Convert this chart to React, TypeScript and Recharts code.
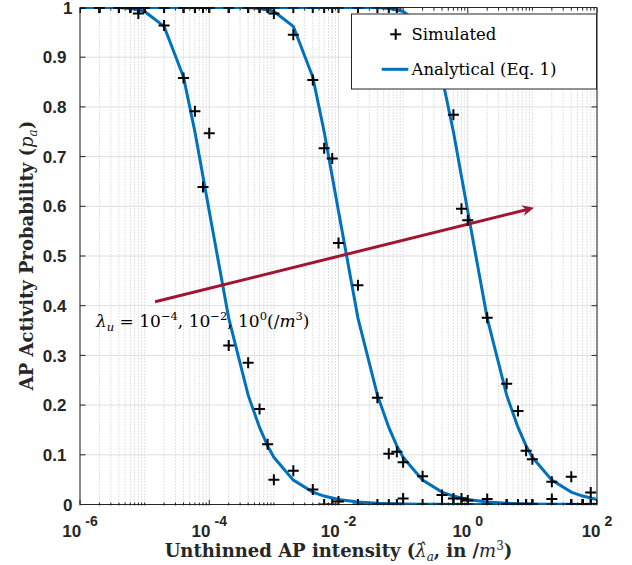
import React from 'react';
import { ComposedChart, Line, XAxis, YAxis, CartesianGrid, ReferenceLine, ReferenceArea } from 'recharts';

// ---------- data ----------
const intensities = [1e-6, 2e-6, 4e-6, 6e-6, 8e-6, 1e-5, 2e-5, 4e-5, 6e-5, 8e-5, 1e-4, 2e-4, 4e-4, 6e-4, 8e-4, 1e-3, 2e-3, 4e-3, 6e-3, 8e-3, 1e-2, 2e-2, 4e-2, 6e-2, 8e-2, 1e-1, 0.2, 0.4, 0.6, 0.8, 1, 2, 4, 6, 8, 10, 20, 40, 60, 80, 100];

const analyticLu4 = [1, 1, 1, 0.998, 0.995, 0.992, 0.962, 0.86, 0.75, 0.66, 0.59, 0.375, 0.22, 0.155, 0.118, 0.095, 0.049, 0.025, 0.017, 0.013, 0.01, 0.005, 0.0025, 0.0017, 0.0013, 0.001, 0.0005, 0.0003, 0.0002, 0.0001, 0.0001, 0, 0, 0, 0, 0, 0, 0, 0, 0, 0];
const analyticLu2 = [1, 1, 1, 1, 1, 1, 1, 1, 1, 1, 1, 1, 1, 0.998, 0.995, 0.992, 0.962, 0.86, 0.75, 0.66, 0.59, 0.375, 0.22, 0.155, 0.118, 0.095, 0.049, 0.025, 0.017, 0.013, 0.01, 0.005, 0.0025, 0.0017, 0.0013, 0.001, 0.0005, 0.0003, 0.0002, 0.0001, 0.0001];
const analyticLu0 = [1, 1, 1, 1, 1, 1, 1, 1, 1, 1, 1, 1, 1, 1, 1, 1, 1, 1, 1, 1, 1, 1, 1, 0.998, 0.995, 0.992, 0.962, 0.86, 0.75, 0.66, 0.59, 0.375, 0.22, 0.155, 0.118, 0.095, 0.049, 0.025, 0.017, 0.013, 0.01];

const simLu4 = [1, 1, 1, 1, 0.988, 1, 0.964, 0.858, 0.791, 0.639, 0.747, 0.32, 0.285, 0.192, 0.121, 0.05, 0.068, 0.03, 0, 0, 0.006, 0, 0, 0, 0, 0.012, 0, 0, 0, 0, 0, 0, 0, 0, 0, 0, 0, 0, 0, 0, 0];
const simLu2 = [1, 1, 1, 1, 1, 1, 1, 1, 1, 1, 1, 1, 1, 1, 1, 0.988, 0.945, 0.854, 0.717, 0.696, 0.526, 0.441, 0.215, 0.102, 0.106, 0.085, 0.057, 0.019, 0.012, 0.012, 0.008, 0.011, 0, 0, 0, 0, 0.011, 0, 0, 0, 0];
const simLu0 = [1, 1, 1, 1, 1, 1, 1, 1, 1, 1, 1, 1, 1, 1, 1, 1, 1, 1, 1, 1, 1, 1, 1, 1, 1, 0.975, 0.96, 0.86, 0.784, 0.595, 0.572, 0.376, 0.243, 0.188, 0.108, 0.091, 0.046, 0.056, 0, 0.024, 0];

const xTickValues = [1e-6, 1e-4, 1e-2, 1, 100];
const xTickExponents = ['-6', '-4', '-2', '0', '2'];
const yTickValues = [0, 0.1, 0.2, 0.3, 0.4, 0.5, 0.6, 0.7, 0.8, 0.9, 1];
const yTickLabels = ['0', '0.1', '0.2', '0.3', '0.4', '0.5', '0.6', '0.7', '0.8', '0.9', '1'];

const arrowSegment = [{ x: 1.45e-5, y: 0.408 }, { x: 10.6, y: 0.597 }];

const rows = intensities.map((x, i) => ({
  x,
  a1: analyticLu4[i],
  a2: analyticLu2[i],
  a3: analyticLu0[i],
  s1: simLu4[i],
  s2: simLu2[i],
  s3: simLu0[i],
}));

const minorTicks: number[] = [];
for (let k = -6; k <= 1; k++) {
  for (let m = 1; m <= 9; m++) {
    if (m === 1 && k % 2 === 0) continue;
    minorTicks.push(m * Math.pow(10, k));
  }
}

// ---------- layout / style ----------
const W = 632;
const H = 565;
const PL = 80;
const PR = 597;
const PT = 7.5;
const PB = 505.5;
const AXIS = '#262626';
const BLUE = '#0072BD';
const RED = '#A2142F';
const SANS = '"Liberation Sans", Arial, Helvetica, sans-serif';
const SERIF = '"DejaVu Serif", serif';

const XMajorTick = (props: any) => {
  const { x, payload } = props;
  const i = xTickValues.indexOf(payload.value);
  return (
    <g>
      <line x1={x} y1={PB} x2={x} y2={PB - 5.5} stroke={AXIS} strokeWidth={1} />
      <line x1={x} y1={PT} x2={x} y2={PT + 5.5} stroke={AXIS} strokeWidth={1} />
      <text x={x} y={PB + 31.5} textAnchor="middle" fontFamily={SANS} fontWeight="bold" fill={AXIS}>
        <tspan fontSize={17}>10</tspan>
        <tspan fontSize={14} dx={4} dy={-11}>{xTickExponents[i]}</tspan>
      </text>
    </g>
  );
};

const XMinorTick = (props: any) => {
  const { x } = props;
  return (
    <g>
      <line x1={x} y1={PB} x2={x} y2={PB - 3} stroke={AXIS} strokeWidth={1} />
      <line x1={x} y1={PT} x2={x} y2={PT + 3} stroke={AXIS} strokeWidth={1} />
    </g>
  );
};

const YTick = (props: any) => {
  const { y, payload } = props;
  const i = yTickValues.indexOf(payload.value);
  const label = yTickLabels[i];
  const endX = label.length === 1 ? 72.5 : 66.5;
  return (
    <g>
      <line x1={PL} y1={y} x2={PL + 5.5} y2={y} stroke={AXIS} strokeWidth={1} />
      <line x1={PR} y1={y} x2={PR - 5.5} y2={y} stroke={AXIS} strokeWidth={1} />
      <text x={endX} y={y} dy="0.36em" textAnchor="end" fontFamily={SANS} fontWeight="bold" fontSize={17} fill={AXIS}>
        {label}
      </text>
    </g>
  );
};

const PlusMark = (props: any) => {
  const { cx, cy } = props;
  if (cx == null || cy == null || isNaN(cx) || isNaN(cy)) return <g />;
  return (
    <g>
      <line x1={cx - 5.5} y1={cy} x2={cx + 5.5} y2={cy} stroke="#000" strokeWidth={2} />
      <line x1={cx} y1={cy - 5.5} x2={cx} y2={cy + 5.5} stroke="#000" strokeWidth={2} />
    </g>
  );
};

const ArrowShape = (props: any) => {
  const { x1, y1, x2, y2 } = props;
  if ([x1, y1, x2, y2].some((v) => v == null || isNaN(v))) return <g />;
  const ang = Math.atan2(y2 - y1, x2 - x1);
  const ux = Math.cos(ang);
  const uy = Math.sin(ang);
  const px = -uy;
  const py = ux;
  const L = 12;
  const hw = 5.5;
  const notch = 8;
  const bx = x2 - ux * L;
  const by = y2 - uy * L;
  const nx = x2 - ux * notch;
  const ny = y2 - uy * notch;
  const pts = `${x2},${y2} ${bx + px * hw},${by + py * hw} ${nx},${ny} ${bx - px * hw},${by - py * hw}`;
  return (
    <g>
      <line x1={x1} y1={y1} x2={nx} y2={ny} stroke={RED} strokeWidth={3} />
      <polygon points={pts} fill={RED} />
    </g>
  );
};

const simDot = (name: string) => (p: any) => <PlusMark key={`${name}-${p.index}`} cx={p.cx} cy={p.cy} />;

export default function App() {
  return (
    <div style={{ position: 'absolute', left: 0, top: 0, width: W, height: H, background: '#fff' }}>
      <ComposedChart
        width={W}
        height={H}
        data={rows}
        margin={{ top: PT, right: W - PR - 1, bottom: H - PB - 1, left: PL - 1 }}
      >
        <XAxis
          xAxisId="minor"
          dataKey="x"
          type="number"
          scale="log"
          domain={[1e-6, 100]}
          allowDataOverflow
          ticks={minorTicks}
          interval={0}
          height={1}
          tickSize={0}
          tickMargin={0}
          tickLine={false}
          axisLine={false}
          tick={(p: any) => <XMinorTick {...p} />}
        />
        <XAxis
          xAxisId="major"
          dataKey="x"
          type="number"
          scale="log"
          domain={[1e-6, 100]}
          allowDataOverflow
          ticks={xTickValues}
          interval={0}
          height={1}
          tickSize={0}
          tickMargin={0}
          tickLine={false}
          axisLine={false}
          tick={(p: any) => <XMajorTick {...p} />}
        />
        <YAxis
          yAxisId="left"
          type="number"
          domain={[0, 1]}
          allowDataOverflow
          ticks={yTickValues}
          interval={0}
          width={1}
          tickSize={0}
          tickMargin={0}
          tickLine={false}
          axisLine={false}
          tick={(p: any) => <YTick {...p} />}
        />
        <YAxis yAxisId="right" orientation="right" type="number" domain={[0, 1]} width={1} tick={false} tickLine={false} axisLine={false} />
        <CartesianGrid xAxisId="minor" yAxisId="left" horizontal={false} stroke="#c4c4c4" strokeDasharray="1 2" />
        <CartesianGrid xAxisId="major" yAxisId="left" stroke="#dedede" />
        <ReferenceArea xAxisId="major" yAxisId="left" x1={1e-6} x2={100} y1={0} y2={1} fill="none" fillOpacity={0} stroke={AXIS} strokeWidth={1} />
        <Line xAxisId="major" yAxisId="left" dataKey="a1" type="linear" stroke={BLUE} strokeWidth={3} dot={false} activeDot={false} isAnimationActive={false} />
        <Line xAxisId="major" yAxisId="left" dataKey="a2" type="linear" stroke={BLUE} strokeWidth={3} dot={false} activeDot={false} isAnimationActive={false} />
        <Line xAxisId="major" yAxisId="left" dataKey="a3" type="linear" stroke={BLUE} strokeWidth={3} dot={false} activeDot={false} isAnimationActive={false} />
        <ReferenceLine xAxisId="major" yAxisId="left" segment={arrowSegment} stroke={RED} strokeWidth={3} shape={(p: any) => <ArrowShape {...p} />} />
        <Line xAxisId="major" yAxisId="left" dataKey="s1" stroke="none" dot={simDot('s1')} activeDot={false} isAnimationActive={false} />
        <Line xAxisId="major" yAxisId="left" dataKey="s2" stroke="none" dot={simDot('s2')} activeDot={false} isAnimationActive={false} />
        <Line xAxisId="major" yAxisId="left" dataKey="s3" stroke="none" dot={simDot('s3')} activeDot={false} isAnimationActive={false} />
      </ComposedChart>
      <svg width={W} height={H} style={{ position: 'absolute', left: 0, top: 0, pointerEvents: 'none' }}>
        {/* annotation */}
        <text x={96} y={326.5} fontFamily={SERIF} fontSize={17} fill="#000">
          <tspan fontStyle="italic">λ</tspan>
          <tspan fontStyle="italic" fontSize={11.5} dy={4}>u</tspan>
          <tspan dy={-4}> = 10</tspan>
          <tspan fontSize={11.5} dy={-7}>−4</tspan>
          <tspan dy={7}>, 10</tspan>
          <tspan fontSize={11.5} dy={-7}>−2</tspan>
          <tspan dy={7}>, 10</tspan>
          <tspan fontSize={11.5} dy={-7}>0</tspan>
          <tspan dy={7}>(/</tspan>
          <tspan fontStyle="italic">m</tspan>
          <tspan fontSize={11.5} dy={-7}>3</tspan>
          <tspan dy={7}>)</tspan>
        </text>
        {/* legend */}
        <rect x={351.5} y={14} width={245} height={75} fill="#fff" stroke={AXIS} strokeWidth={1} />
        <line x1={390.2} y1={34.3} x2={401.2} y2={34.3} stroke="#000" strokeWidth={2} />
        <line x1={395.7} y1={28.8} x2={395.7} y2={39.8} stroke="#000" strokeWidth={2} />
        <text x={411.5} y={39.8} fontFamily={SERIF} fontSize={16.5} fill="#000">Simulated</text>
        <line x1={381.7} y1={69.3} x2={408.3} y2={69.3} stroke={BLUE} strokeWidth={3} />
        <text x={411.5} y={75} fontFamily={SERIF} fontSize={16.5} fill="#000">Analytical (Eq. 1)</text>
        {/* x label */}
        <text x={338.5} y={556.5} textAnchor="middle" fontFamily={SERIF} fontSize={18} fontWeight="bold" fill={AXIS}>
          <tspan>Unthinned AP intensity (</tspan>
          <tspan fontStyle="italic" fontWeight="normal">λ̂</tspan>
          <tspan fontStyle="italic" fontWeight="normal" fontSize={12} dy={4}>a</tspan>
          <tspan dy={-4}>, in /</tspan>
          <tspan fontStyle="italic" fontWeight="normal">m</tspan>
          <tspan fontWeight="normal" fontSize={12} dy={-7}>3</tspan>
          <tspan dy={7}>)</tspan>
        </text>
        {/* y label */}
        <text x={0} y={0} transform="translate(33,255.5) rotate(-90)" textAnchor="middle" fontFamily={SERIF} fontSize={18} fontWeight="bold" fill={AXIS}>
          <tspan>AP Activity Probability (</tspan>
          <tspan fontStyle="italic" fontWeight="normal">p</tspan>
          <tspan fontStyle="italic" fontWeight="normal" fontSize={12} dy={4}>a</tspan>
          <tspan dy={-4}>)</tspan>
        </text>
      </svg>
    </div>
  );
}
